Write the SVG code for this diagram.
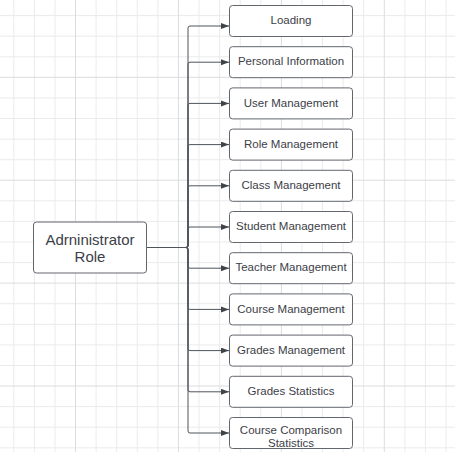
<svg xmlns="http://www.w3.org/2000/svg" width="455" height="452" viewBox="0 0 455 452">
<defs>
<style>
.gmin{stroke:#ebebeb;stroke-width:1;fill:none}
.gmaj{stroke:#dcdcdc;stroke-width:1;fill:none}
.box{fill:#ffffff;stroke:#62666d;stroke-width:1}
.lbl{font-family:"Liberation Sans",Arial,sans-serif;font-size:11.5px;fill:#3c4047;text-anchor:middle}
.big{font-family:"Liberation Sans",Arial,sans-serif;font-size:15px;fill:#3c4047;text-anchor:middle}
.con{fill:none;stroke:#4f545b;stroke-width:1}
</style>
<marker id="arr" markerUnits="userSpaceOnUse" markerWidth="9" markerHeight="7" refX="8" refY="3" orient="auto">
<path d="M0,0 L8,3 L0,6 z" fill="#3f444b"/>
</marker>
</defs>
<rect width="455" height="452" fill="#ffffff"/>
<g id="grid">
<path class="gmin" d="M13.8,0V452M34.4,0V452M55,0V452M96.1,0V452M116.7,0V452M137.3,0V452M157.9,0V452M199,0V452M219.6,0V452M240.2,0V452M260.8,0V452M301.9,0V452M322.5,0V452M343.1,0V452M363.7,0V452M404.9,0V452M425.4,0V452M446,0V452M0,15.6H455M0,36.2H455M0,56.8H455M0,97.9H455M0,118.5H455M0,139.1H455M0,159.7H455M0,200.8H455M0,221.4H455M0,242H455M0,262.6H455M0,303.7H455M0,324.3H455M0,344.9H455M0,365.5H455M0,406.6H455M0,427.2H455M0,447.8H455"/>
<path class="gmaj" d="M75.5,0V452M178.4,0V452M281.4,0V452M384.3,0V452M0,77.3H455M0,180.2H455M0,283.1H455M0,386H455"/>
</g>
<g id="connectors">
<path class="con" marker-end="url(#arr)" d="M147,247.5H186Q188,247.5 188,245.5V28Q188,26 190,26H229"/>
<path class="con" marker-end="url(#arr)" d="M147,247.5H186Q188,247.5 188,245.5V64.2Q188,62.2 190,62.2H229"/>
<path class="con" marker-end="url(#arr)" d="M147,247.5H186Q188,247.5 188,245.5V105.4Q188,103.4 190,103.4H229"/>
<path class="con" marker-end="url(#arr)" d="M147,247.5H186Q188,247.5 188,245.5V146.6Q188,144.6 190,144.6H229"/>
<path class="con" marker-end="url(#arr)" d="M147,247.5H186Q188,247.5 188,245.5V187.8Q188,185.8 190,185.8H229"/>
<path class="con" marker-end="url(#arr)" d="M147,247.5H186Q188,247.5 188,245.5V229Q188,227 190,227H229"/>
<path class="con" marker-end="url(#arr)" d="M147,247.5H186Q188,247.5 188,249.5V266.2Q188,268.2 190,268.2H229"/>
<path class="con" marker-end="url(#arr)" d="M147,247.5H186Q188,247.5 188,249.5V307.4Q188,309.4 190,309.4H229"/>
<path class="con" marker-end="url(#arr)" d="M147,247.5H186Q188,247.5 188,249.5V348.6Q188,350.6 190,350.6H229"/>
<path class="con" marker-end="url(#arr)" d="M147,247.5H186Q188,247.5 188,249.5V389.8Q188,391.8 190,391.8H229"/>
<path class="con" marker-end="url(#arr)" d="M147,247.5H186Q188,247.5 188,249.5V431Q188,433 190,433H229"/>
</g>
<g id="admin">
<rect class="box" x="33.5" y="222" width="113" height="51" rx="3"/>
<text class="big" x="90" y="245">Adrninistrator</text>
<text class="big" x="90" y="262">Role</text>
</g>
<g id="loading">
<rect class="box" x="229.5" y="5.5" width="123" height="31" rx="3"/>
<text class="lbl" x="291" y="24.2">Loading</text>
</g>
<g id="personal-information">
<rect class="box" x="229.5" y="46.7" width="123" height="31" rx="3"/>
<text class="lbl" x="291" y="65.4">Personal Information</text>
</g>
<g id="user-management">
<rect class="box" x="229.5" y="87.9" width="123" height="31" rx="3"/>
<text class="lbl" x="291" y="106.6">User Management</text>
</g>
<g id="role-management">
<rect class="box" x="229.5" y="129.1" width="123" height="31" rx="3"/>
<text class="lbl" x="291" y="147.8">Role Management</text>
</g>
<g id="class-management">
<rect class="box" x="229.5" y="170.3" width="123" height="31" rx="3"/>
<text class="lbl" x="291" y="189">Class Management</text>
</g>
<g id="student-management">
<rect class="box" x="229.5" y="211.5" width="123" height="31" rx="3"/>
<text class="lbl" x="291" y="230.2">Student Management</text>
</g>
<g id="teacher-management">
<rect class="box" x="229.5" y="252.7" width="123" height="31" rx="3"/>
<text class="lbl" x="291" y="271.4">Teacher Management</text>
</g>
<g id="course-management">
<rect class="box" x="229.5" y="293.9" width="123" height="31" rx="3"/>
<text class="lbl" x="291" y="312.6">Course Management</text>
</g>
<g id="grades-management">
<rect class="box" x="229.5" y="335.1" width="123" height="31" rx="3"/>
<text class="lbl" x="291" y="353.8">Grades Management</text>
</g>
<g id="grades-statistics">
<rect class="box" x="229.5" y="376.3" width="123" height="31" rx="3"/>
<text class="lbl" x="291" y="395">Grades Statistics</text>
</g>
<g id="course-comparison-statistics">
<rect class="box" x="229.5" y="417.5" width="123" height="31" rx="3"/>
<text class="lbl" x="291" y="433.5">Course Comparison</text>
<text class="lbl" x="291" y="446.5">Statistics</text>
</g>
</svg>
